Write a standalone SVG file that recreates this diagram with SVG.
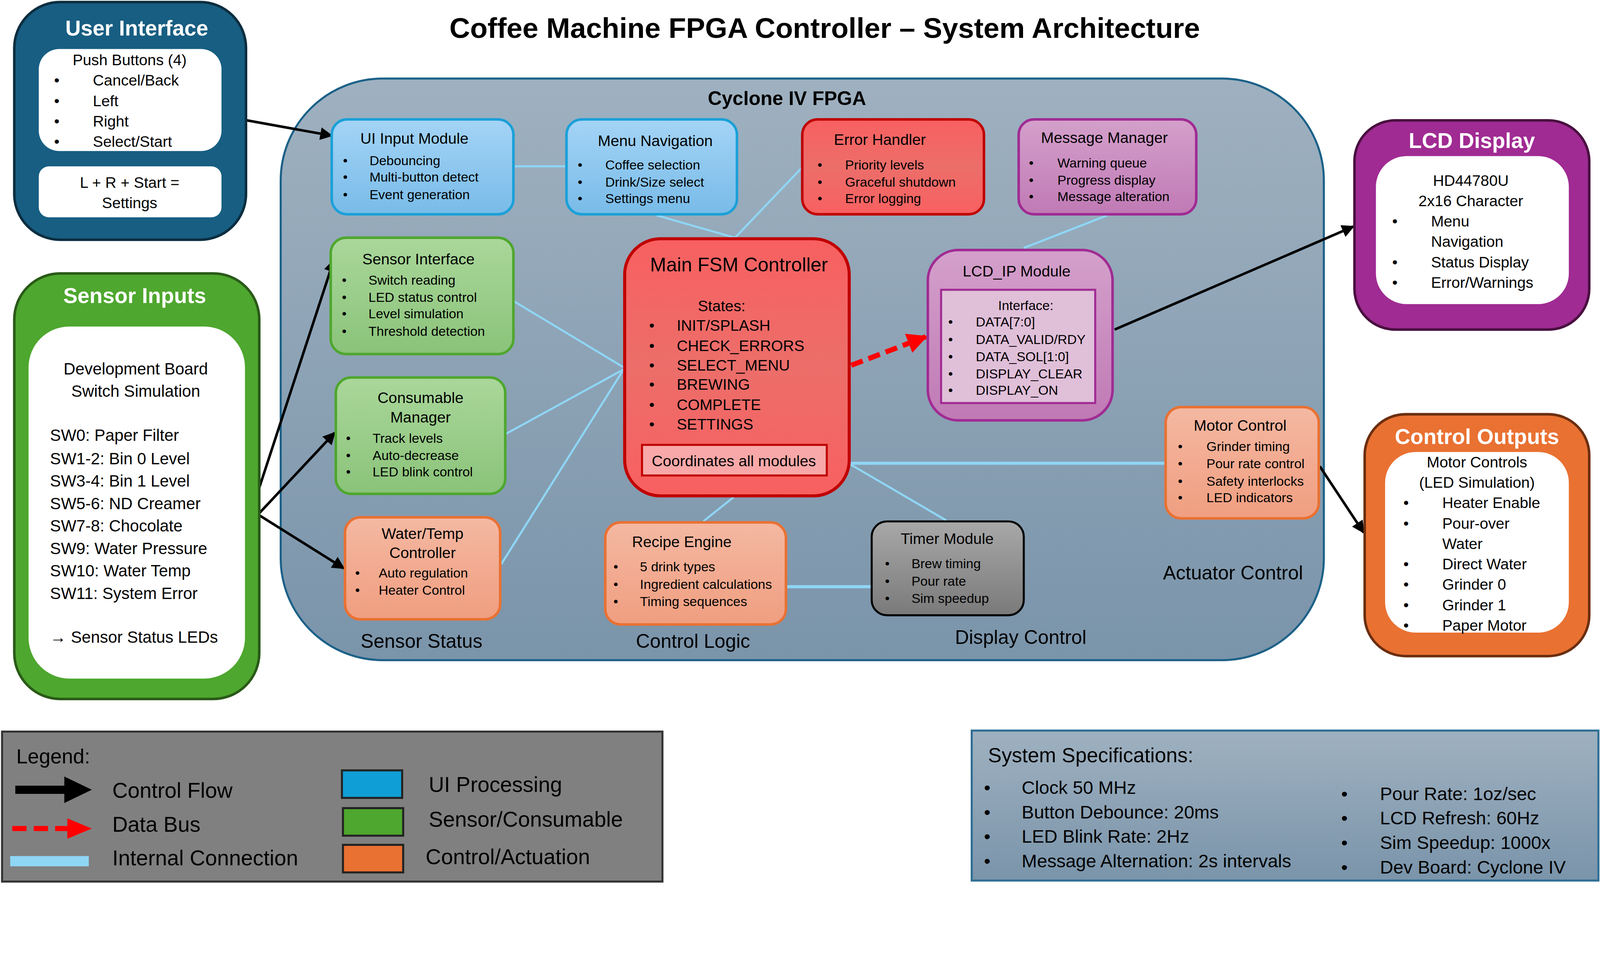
<svg xmlns="http://www.w3.org/2000/svg" width="4327" height="2461" viewBox="0 0 4327 2461">
<defs>
<style>
text{font-family:"Liberation Sans",Arial,sans-serif;fill:#000}
.t{font-size:15px;text-anchor:middle}
.b{font-size:13px}
.c{text-anchor:middle}
.h{font-size:21px;font-weight:bold;fill:#fff;text-anchor:middle}
.w{fill:#fff;stroke:none}
.ic{stroke:#8FD6F5;stroke-width:2;fill:none}
.blue{fill:url(#gB);stroke:#1AA0D8;stroke-width:2.5}
.red{fill:url(#gR);stroke:#C00000;stroke-width:2.5}
.pur{fill:url(#gP);stroke:#A02B93;stroke-width:2.5}
.grn{fill:url(#gG);stroke:#4EA72E;stroke-width:2.5}
.sal{fill:url(#gS);stroke:#E97132;stroke-width:2.5}
.gry{fill:url(#gK);stroke:#000;stroke-width:2}
</style>
<linearGradient id="gB" x1="0" y1="0" x2="0" y2="1"><stop offset="0" stop-color="#A4D4F6"/><stop offset="1" stop-color="#78BBE8"/></linearGradient>
<linearGradient id="gR" x1="0" y1="0" x2="0" y2="1"><stop offset="0" stop-color="#F86060"/><stop offset="0.5" stop-color="#EC6E6A"/><stop offset="1" stop-color="#F86060"/></linearGradient>
<linearGradient id="gP" x1="0" y1="0" x2="0" y2="1"><stop offset="0" stop-color="#D4A0CB"/><stop offset="1" stop-color="#C07AB5"/></linearGradient>
<linearGradient id="gG" x1="0" y1="0" x2="0" y2="1"><stop offset="0" stop-color="#AAD79B"/><stop offset="1" stop-color="#8AC379"/></linearGradient>
<linearGradient id="gS" x1="0" y1="0" x2="0" y2="1"><stop offset="0" stop-color="#F4B8A2"/><stop offset="1" stop-color="#F09E80"/></linearGradient>
<linearGradient id="gK" x1="0" y1="0" x2="0" y2="1"><stop offset="0" stop-color="#A8A8A8"/><stop offset="1" stop-color="#7A7A7A"/></linearGradient>
<linearGradient id="gF" x1="0" y1="0" x2="0" y2="1"><stop offset="0" stop-color="#9FB1C0"/><stop offset="1" stop-color="#7A94AA"/></linearGradient>
<marker id="ak" viewBox="0 0 10 10" refX="9" refY="5" markerWidth="5" markerHeight="5" orient="auto-start-reverse" markerUnits="strokeWidth"><path d="M0,0L10,5L0,10z" fill="#000"/></marker>
<marker id="ar" viewBox="0 0 10 10" refX="9" refY="5" markerWidth="4" markerHeight="4" orient="auto" markerUnits="strokeWidth"><path d="M0,0L10,5L0,10z" fill="#F00"/></marker>
</defs>
<rect width="4327" height="2461" fill="#fff"/>
<g transform="scale(2.613)">
<text x="808" y="37" style="font-size:28px;font-weight:bold" class="c">Coffee Machine FPGA Controller – System Architecture</text>

<g id="fpga">
<rect x="275" y="77" width="1022" height="570" rx="100" fill="url(#gF)" stroke="#1B6188" stroke-width="2"/>
<text x="771" y="103" class="c" style="font-size:19px;font-weight:bold">Cyclone IV FPGA</text>
<text x="413" y="635" class="c" style="font-size:19px">Sensor Status</text>
<text x="679" y="635" class="c" style="font-size:19px">Control Logic</text>
<text x="1000" y="631" class="c" style="font-size:19px">Display Control</text>
<text x="1208" y="568" class="c" style="font-size:19px">Actuator Control</text>
</g>

<g id="connectors">
<line class="ic" x1="503" y1="163" x2="555" y2="163"/>
<line class="ic" x1="643" y1="211" x2="720" y2="233"/>
<line class="ic" x1="785" y1="165" x2="720" y2="233"/>
<line class="ic" x1="1085" y1="211" x2="1003" y2="243"/>
<line class="ic" x1="503" y1="295" x2="611" y2="360"/>
<line class="ic" x1="496" y1="425" x2="611" y2="362"/>
<line class="ic" x1="491" y1="553" x2="611" y2="362"/>
<line class="ic" x1="719" y1="487" x2="689" y2="511"/>
<line class="ic" x1="833" y1="455" x2="927" y2="510"/>
<line class="ic" x1="833" y1="454" x2="1142" y2="454" style="stroke-width:3"/>
<line class="ic" x1="770" y1="575" x2="854" y2="575" style="stroke-width:3"/>
<line x1="834" y1="358" x2="907" y2="330" stroke="#F00" stroke-width="5" stroke-dasharray="12,6" marker-end="url(#ar)"/>
<g stroke="#000" stroke-width="2.5" fill="none" marker-end="url(#ak)">
<line x1="242" y1="118" x2="325" y2="133"/>
<line x1="254" y1="478" x2="327" y2="255"/>
<line x1="254" y1="503" x2="328" y2="424"/>
<line x1="254" y1="505" x2="337" y2="557"/>
<line x1="1092" y1="323" x2="1326" y2="222"/>
<line x1="1293" y1="457" x2="1336" y2="522"/>
</g>
</g>

<g id="user-interface">
<rect x="14" y="2" width="227" height="233" rx="45" fill="#175E82" stroke="#0C2E40" stroke-width="2.5"/>
<text x="134" y="35" class="h">User Interface</text>
<rect class="w" x="38" y="48" width="179" height="100" rx="20"/>
<rect class="w" x="38" y="163" width="179" height="50" rx="10"/>
<g style="font-size:15px">
<text x="127" y="64" class="c">Push Buttons (4)</text>
<text x="53" y="84">•</text><text x="91" y="84">Cancel/Back</text>
<text x="53" y="104">•</text><text x="91" y="104">Left</text>
<text x="53" y="124">•</text><text x="91" y="124">Right</text>
<text x="53" y="144">•</text><text x="91" y="144">Select/Start</text>
<text x="127" y="184" class="c">L + R + Start =</text>
<text x="127" y="204" class="c">Settings</text>
</g>
</g>

<g id="sensor-inputs">
<rect x="14" y="268" width="240" height="417" rx="45" fill="#4EA72E" stroke="#2A5A18" stroke-width="2.5"/>
<text x="132" y="297" class="h">Sensor Inputs</text>
<rect class="w" x="28" y="320" width="212" height="345" rx="40"/>
<g style="font-size:16px">
<text x="133" y="367" class="c">Development Board</text>
<text x="133" y="389" class="c">Switch Simulation</text>
<text x="49" y="432">SW0: Paper Filter</text>
<text x="49" y="455">SW1-2: Bin 0 Level</text>
<text x="49" y="477">SW3-4: Bin 1 Level</text>
<text x="49" y="499">SW5-6: ND Creamer</text>
<text x="49" y="521">SW7-8: Chocolate</text>
<text x="49" y="543">SW9: Water Pressure</text>
<text x="49" y="565">SW10: Water Temp</text>
<text x="49" y="587">SW11: System Error</text>
<text x="49" y="630">→ Sensor Status LEDs</text>
</g>
</g>

<g id="ui-input">
<rect class="blue" x="325" y="117" width="178" height="93" rx="15"/>
<text x="406" y="141" class="t">UI Input Module</text>
<text x="336" y="162" class="b">•</text><text x="362" y="162" class="b">Debouncing</text>
<text x="336" y="178" class="b">•</text><text x="362" y="178" class="b">Multi-button detect</text>
<text x="336" y="195" class="b">•</text><text x="362" y="195" class="b">Event generation</text>
</g>
<g id="menu-nav">
<rect class="blue" x="555" y="117" width="167" height="93" rx="15"/>
<text x="642" y="143" class="t">Menu Navigation</text>
<text x="566" y="166" class="b">•</text><text x="593" y="166" class="b">Coffee selection</text>
<text x="566" y="183" class="b">•</text><text x="593" y="183" class="b">Drink/Size select</text>
<text x="566" y="199" class="b">•</text><text x="593" y="199" class="b">Settings menu</text>
</g>
<g id="error-handler">
<rect class="red" x="786" y="117" width="178" height="93" rx="15"/>
<text x="862" y="142" class="t">Error Handler</text>
<text x="801" y="166" class="b">•</text><text x="828" y="166" class="b">Priority levels</text>
<text x="801" y="183" class="b">•</text><text x="828" y="183" class="b">Graceful shutdown</text>
<text x="801" y="199" class="b">•</text><text x="828" y="199" class="b">Error logging</text>
</g>
<g id="message-manager">
<rect class="pur" x="998" y="117" width="174" height="93" rx="15"/>
<text x="1082" y="140" class="t">Message Manager</text>
<text x="1008" y="164" class="b">•</text><text x="1036" y="164" class="b">Warning queue</text>
<text x="1008" y="181" class="b">•</text><text x="1036" y="181" class="b">Progress display</text>
<text x="1008" y="197" class="b">•</text><text x="1036" y="197" class="b">Message alteration</text>
</g>
<g id="sensor-interface">
<rect class="grn" x="324" y="233" width="179" height="114" rx="15"/>
<text x="410" y="259" class="t">Sensor Interface</text>
<text x="335" y="279" class="b">•</text><text x="361" y="279" class="b">Switch reading</text>
<text x="335" y="296" class="b">•</text><text x="361" y="296" class="b">LED status control</text>
<text x="335" y="312" class="b">•</text><text x="361" y="312" class="b">Level simulation</text>
<text x="335" y="329" class="b">•</text><text x="361" y="329" class="b">Threshold detection</text>
</g>
<g id="consumable-manager">
<rect class="grn" x="329" y="370" width="166" height="114" rx="15"/>
<text x="412" y="395" class="t">Consumable</text>
<text x="412" y="414" class="t">Manager</text>
<text x="339" y="434" class="b">•</text><text x="365" y="434" class="b">Track levels</text>
<text x="339" y="451" class="b">•</text><text x="365" y="451" class="b">Auto-decrease</text>
<text x="339" y="467" class="b">•</text><text x="365" y="467" class="b">LED blink control</text>
</g>
<g id="water-temp">
<rect class="sal" x="338" y="507" width="152" height="100" rx="15"/>
<text x="414" y="528" class="t">Water/Temp</text>
<text x="414" y="547" class="t">Controller</text>
<text x="348" y="566" class="b">•</text><text x="371" y="566" class="b">Auto regulation</text>
<text x="348" y="583" class="b">•</text><text x="371" y="583" class="b">Heater Control</text>
</g>
<g id="main-fsm">
<rect class="red" x="612" y="234" width="220" height="252" rx="35" style="stroke-width:3"/>
<text x="724" y="266" class="c" style="font-size:19px">Main FSM Controller</text>
<g style="font-size:15px">
<text x="707" y="305" class="c">States:</text>
<text x="636" y="324">•</text><text x="663" y="324">INIT/SPLASH</text>
<text x="636" y="344">•</text><text x="663" y="344">CHECK_ERRORS</text>
<text x="636" y="363">•</text><text x="663" y="363">SELECT_MENU</text>
<text x="636" y="382">•</text><text x="663" y="382">BREWING</text>
<text x="636" y="402">•</text><text x="663" y="402">COMPLETE</text>
<text x="636" y="421">•</text><text x="663" y="421">SETTINGS</text>
</g>
<rect x="629" y="436" width="181" height="30" fill="#F8A8A8" stroke="#C00000" stroke-width="2"/>
<text x="719" y="457" class="t">Coordinates all modules</text>
</g>
<g id="lcd-ip">
<rect class="pur" x="909" y="245" width="181" height="167" rx="30"/>
<text x="996" y="271" class="t">LCD_IP Module</text>
<rect x="922" y="284" width="151" height="111" fill="#E0BFD9" stroke="#A02B93" stroke-width="2"/>
<text x="1005" y="304" class="b c">Interface:</text>
<text x="929" y="320" class="b">•</text><text x="956" y="320" class="b">DATA[7:0]</text>
<text x="929" y="337" class="b">•</text><text x="956" y="337" class="b">DATA_VALID/RDY</text>
<text x="929" y="354" class="b">•</text><text x="956" y="354" class="b">DATA_SOL[1:0]</text>
<text x="929" y="371" class="b">•</text><text x="956" y="371" class="b">DISPLAY_CLEAR</text>
<text x="929" y="387" class="b">•</text><text x="956" y="387" class="b">DISPLAY_ON</text>
</g>
<g id="motor-control">
<rect class="sal" x="1142" y="399" width="150" height="109" rx="15"/>
<text x="1215" y="422" class="t">Motor Control</text>
<text x="1154" y="442" class="b">•</text><text x="1182" y="442" class="b">Grinder timing</text>
<text x="1154" y="459" class="b">•</text><text x="1182" y="459" class="b">Pour rate control</text>
<text x="1154" y="476" class="b">•</text><text x="1182" y="476" class="b">Safety interlocks</text>
<text x="1154" y="492" class="b">•</text><text x="1182" y="492" class="b">LED indicators</text>
</g>
<g id="recipe-engine">
<rect class="sal" x="593" y="512" width="177" height="100" rx="15"/>
<text x="668" y="536" class="t">Recipe Engine</text>
<text x="601" y="560" class="b">•</text><text x="627" y="560" class="b">5 drink types</text>
<text x="601" y="577" class="b">•</text><text x="627" y="577" class="b">Ingredient calculations</text>
<text x="601" y="594" class="b">•</text><text x="627" y="594" class="b">Timing sequences</text>
</g>
<g id="timer-module">
<rect class="gry" x="854" y="511" width="149" height="92" rx="15"/>
<text x="928" y="533" class="t">Timer Module</text>
<text x="867" y="557" class="b">•</text><text x="893" y="557" class="b">Brew timing</text>
<text x="867" y="574" class="b">•</text><text x="893" y="574" class="b">Pour rate</text>
<text x="867" y="591" class="b">•</text><text x="893" y="591" class="b">Sim speedup</text>
</g>

<g id="lcd-display">
<rect x="1327" y="118" width="230" height="205" rx="40" fill="#A02B93" stroke="#4A1040" stroke-width="2.5"/>
<text x="1442" y="145" class="h">LCD Display</text>
<rect class="w" x="1348" y="153" width="189" height="145" rx="30"/>
<g style="font-size:15px">
<text x="1441" y="182" class="c">HD44780U</text>
<text x="1441" y="202" class="c">2x16 Character</text>
<text x="1364" y="222">•</text><text x="1402" y="222">Menu</text>
<text x="1402" y="242">Navigation</text>
<text x="1364" y="262">•</text><text x="1402" y="262">Status Display</text>
<text x="1364" y="282">•</text><text x="1402" y="282">Error/Warnings</text>
</g>
</g>

<g id="control-outputs">
<rect x="1337" y="406" width="220" height="237" rx="40" fill="#E97132" stroke="#6B2E10" stroke-width="2.5"/>
<text x="1447" y="435" class="h">Control Outputs</text>
<rect class="w" x="1357" y="443" width="180" height="177" rx="30"/>
<g style="font-size:15px">
<text x="1447" y="458" class="c">Motor Controls</text>
<text x="1447" y="478" class="c">(LED Simulation)</text>
<text x="1375" y="498">•</text><text x="1413" y="498">Heater Enable</text>
<text x="1375" y="518">•</text><text x="1413" y="518">Pour-over</text>
<text x="1413" y="538">Water</text>
<text x="1375" y="558">•</text><text x="1413" y="558">Direct Water</text>
<text x="1375" y="578">•</text><text x="1413" y="578">Grinder 0</text>
<text x="1375" y="598">•</text><text x="1413" y="598">Grinder 1</text>
<text x="1375" y="618">•</text><text x="1413" y="618">Paper Motor</text>
</g>
</g>

<g id="legend">
<rect x="2" y="717" width="647" height="147" fill="#808080" stroke="#333" stroke-width="2"/>
<text x="16" y="748" style="font-size:20px">Legend:</text>
<path d="M15,770h48v-9l27,13l-27,13v-9h-48z" fill="#000"/>
<line x1="12" y1="812" x2="70" y2="812" stroke="#F00" stroke-width="5" stroke-dasharray="14,7"/>
<path d="M66,802l24,10l-24,10z" fill="#F00"/>
<line x1="10" y1="844" x2="87" y2="844" stroke="#8FD6F5" stroke-width="10"/>
<text x="110" y="782" style="font-size:21px">Control Flow</text>
<text x="110" y="815" style="font-size:21px">Data Bus</text>
<text x="110" y="848" style="font-size:21px">Internal Connection</text>
<rect x="335" y="755" width="59" height="27" fill="#0F9ED5" stroke="#222" stroke-width="2"/>
<rect x="336" y="792" width="59" height="27" fill="#4EA72E" stroke="#222" stroke-width="2"/>
<rect x="336" y="828" width="59" height="27" fill="#E97132" stroke="#222" stroke-width="2"/>
<text x="420" y="776" style="font-size:21px">UI Processing</text>
<text x="420" y="810" style="font-size:21px">Sensor/Consumable</text>
<text x="417" y="847" style="font-size:21px">Control/Actuation</text>
</g>

<g id="specs">
<rect x="952" y="716" width="614" height="147" fill="url(#gF)" stroke="#2E6E94" stroke-width="2"/>
<text x="968" y="747" style="font-size:20px">System Specifications:</text>
<g style="font-size:18px">
<text x="964" y="778">•</text><text x="1001" y="778">Clock 50 MHz</text>
<text x="964" y="802">•</text><text x="1001" y="802">Button Debounce: 20ms</text>
<text x="964" y="826">•</text><text x="1001" y="826">LED Blink Rate: 2Hz</text>
<text x="964" y="850">•</text><text x="1001" y="850">Message Alternation: 2s intervals</text>
<text x="1314" y="784">•</text><text x="1352" y="784">Pour Rate: 1oz/sec</text>
<text x="1314" y="808">•</text><text x="1352" y="808">LCD Refresh: 60Hz</text>
<text x="1314" y="832">•</text><text x="1352" y="832">Sim Speedup: 1000x</text>
<text x="1314" y="856">•</text><text x="1352" y="856">Dev Board: Cyclone IV</text>
</g>
</g>
</g>
</svg>
